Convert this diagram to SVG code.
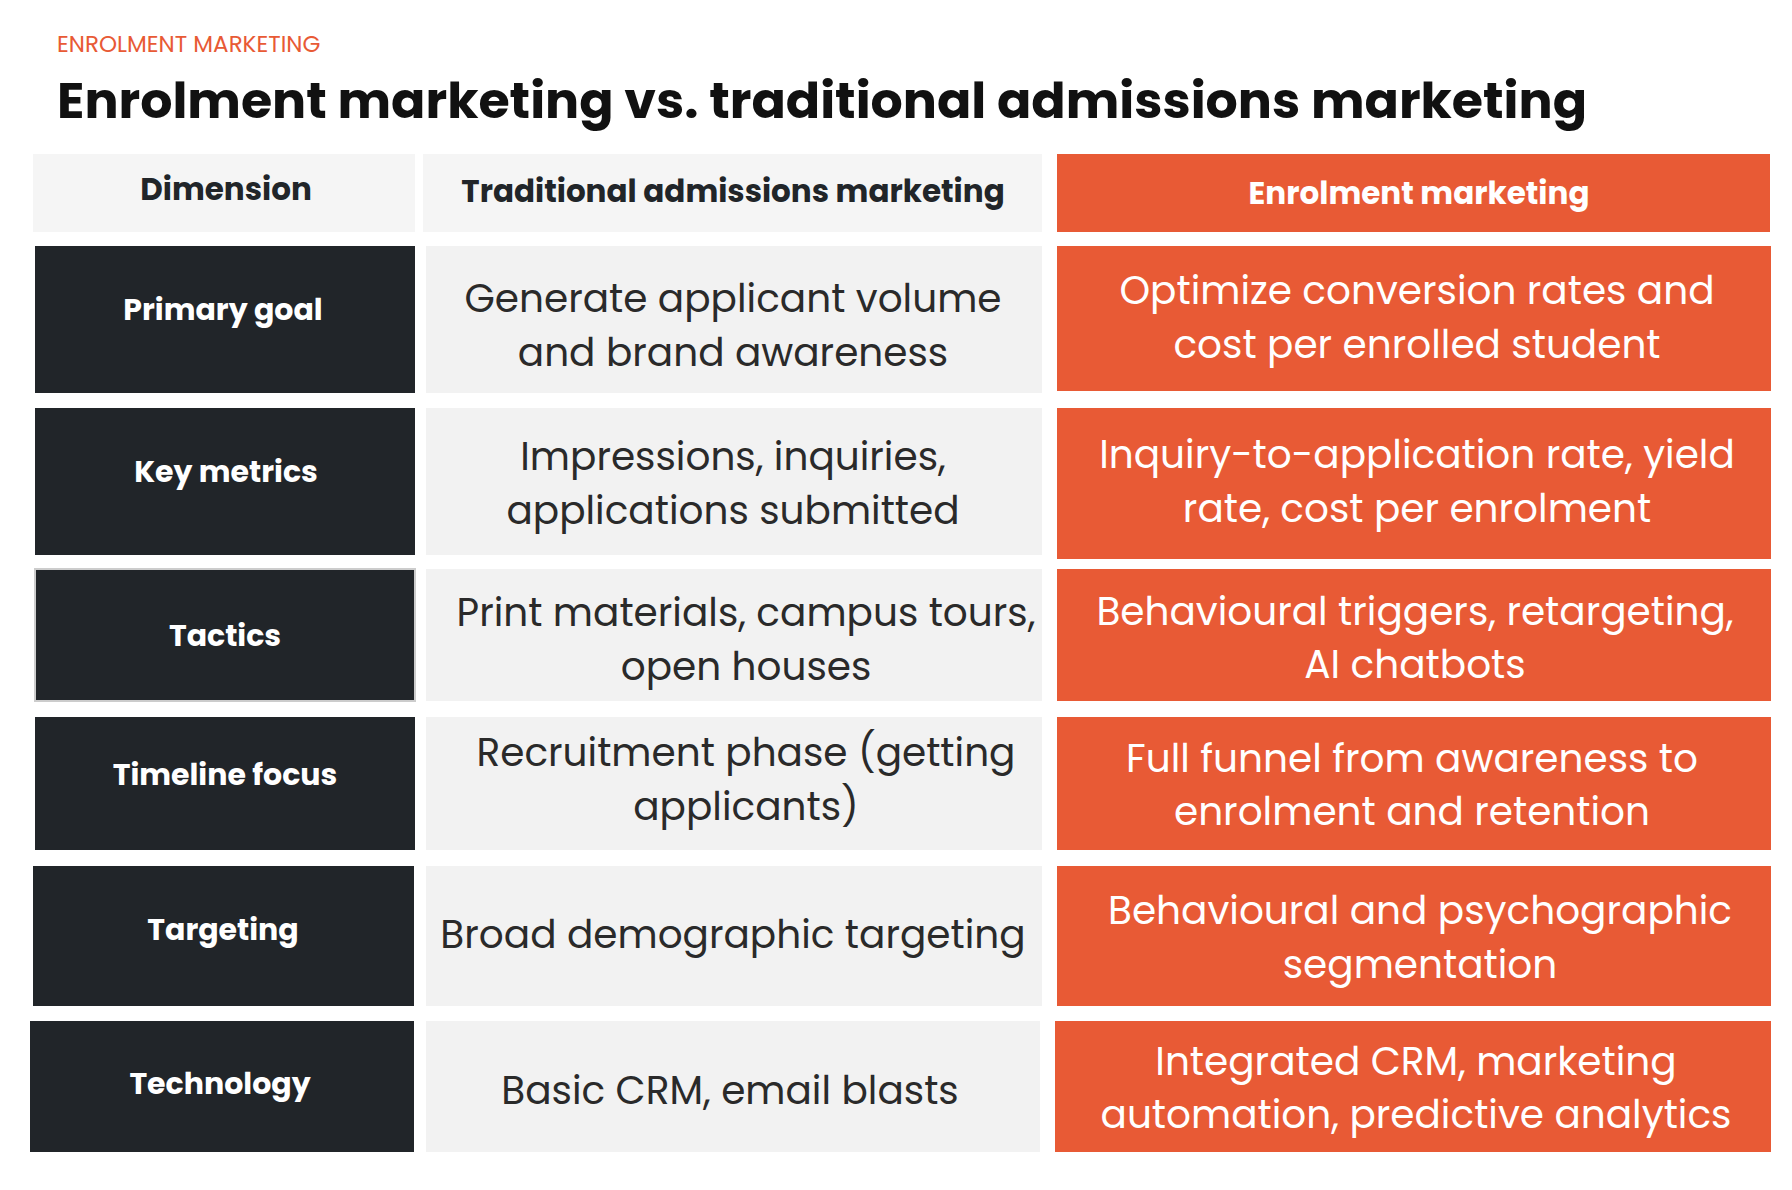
<svg xmlns="http://www.w3.org/2000/svg" width="1792" height="1190" viewBox="0 0 1792 1190">
<style>
.d{fill:#212529}.g{fill:#F2F2F2}.o{fill:#E85A35}.h{fill:#F5F5F5}
text{font-family:Poppins,"Open Sans","Noto Sans",sans-serif;text-anchor:middle}
.lab{font-weight:700;font-size:30px;fill:#fff}
.hd{font-weight:700;font-size:31px;fill:#212529}
.b2{font-size:39px;fill:#2a2a2a}
.b3{font-size:39px;fill:#fff}
</style>
<rect width="1792" height="1190" fill="#fff"/>
<text x="57" y="52" style="text-anchor:start;font-size:23px;fill:#E85A35">ENROLMENT MARKETING</text>
<text x="57" y="118" style="text-anchor:start;font-size:50px;font-weight:700;fill:#111" textLength="1530" lengthAdjust="spacingAndGlyphs">Enrolment marketing vs. traditional admissions marketing</text>
<g id="header">
<rect class="h" x="33" y="154" width="382" height="78"/><text class="hd" x="226" y="200">Dimension</text>
<rect class="h" x="423" y="154" width="619" height="78"/><text class="hd" x="733" y="202">Traditional admissions marketing</text>
<rect class="o" x="1057" y="154" width="713" height="78"/><text class="hd" x="1419" y="204" style="fill:#fff">Enrolment marketing</text>
</g>
<g id="row1">
<rect class="d" x="35" y="246" width="380" height="147"/><text class="lab" x="223" y="320">Primary goal</text>
<rect class="g" x="426" y="246" width="616" height="147"/><text class="b2" x="733" y="312">Generate applicant volume</text><text class="b2" x="733" y="366">and brand awareness</text>
<rect class="o" x="1057" y="246" width="714" height="145"/><text class="b3" x="1417" y="304">Optimize conversion rates and</text><text class="b3" x="1417" y="358">cost per enrolled student</text>
</g>
<g id="row2">
<rect class="d" x="35" y="408" width="380" height="147"/><text class="lab" x="226" y="482">Key metrics</text>
<rect class="g" x="426" y="408" width="616" height="147"/><text class="b2" x="733" y="470">Impressions, inquiries,</text><text class="b2" x="733" y="524">applications submitted</text>
<rect class="o" x="1057" y="408" width="714" height="151"/><text class="b3" x="1417" y="468">Inquiry-to-application rate, yield</text><text class="b3" x="1417" y="522">rate, cost per enrolment</text>
</g>
<g id="row3">
<rect class="d" x="35" y="569" width="380" height="132" stroke="#ccc" stroke-width="2"/><text class="lab" x="225" y="646">Tactics</text>
<rect class="g" x="426" y="569" width="616" height="132"/><text class="b2" x="746" y="626">Print materials, campus tours,</text><text class="b2" x="746" y="680">open houses</text>
<rect class="o" x="1057" y="569" width="714" height="132"/><text class="b3" x="1415" y="625">Behavioural triggers, retargeting,</text><text class="b3" x="1415" y="678">AI chatbots</text>
</g>
<g id="row4">
<rect class="d" x="35" y="717" width="380" height="133"/><text class="lab" x="225" y="785">Timeline focus</text>
<rect class="g" x="426" y="717" width="616" height="133"/><text class="b2" x="746" y="766">Recruitment phase (getting</text><text class="b2" x="746" y="820">applicants)</text>
<rect class="o" x="1057" y="717" width="714" height="133"/><text class="b3" x="1412" y="772">Full funnel from awareness to</text><text class="b3" x="1412" y="825">enrolment and retention</text>
</g>
<g id="row5">
<rect class="d" x="33" y="866" width="381" height="140"/><text class="lab" x="223" y="940">Targeting</text>
<rect class="g" x="426" y="866" width="616" height="140"/><text class="b2" x="733" y="948">Broad demographic targeting</text>
<rect class="o" x="1057" y="866" width="714" height="140"/><text class="b3" x="1420" y="924">Behavioural and psychographic</text><text class="b3" x="1420" y="978">segmentation</text>
</g>
<g id="row6">
<rect class="d" x="30" y="1021" width="384" height="131"/><text class="lab" x="220" y="1094">Technology</text>
<rect class="g" x="426" y="1021" width="614" height="131"/><text class="b2" x="730" y="1104">Basic CRM, email blasts</text>
<rect class="o" x="1055" y="1021" width="716" height="131"/><text class="b3" x="1416" y="1075">Integrated CRM, marketing</text><text class="b3" x="1416" y="1128">automation, predictive analytics</text>
</g>
<g id="connectors"/>
</svg>
